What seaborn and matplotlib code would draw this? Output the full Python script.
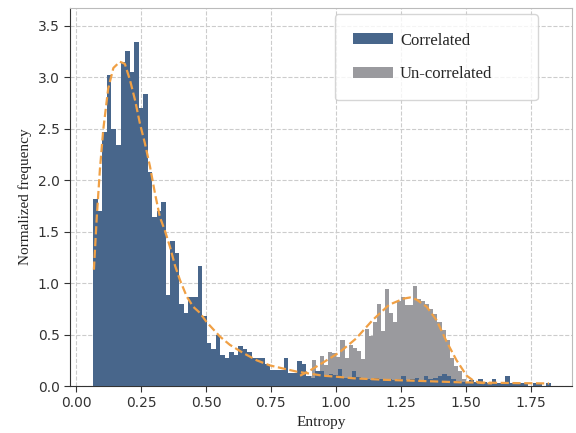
import numpy as np
import pandas as pd
import matplotlib
matplotlib.use("Agg")
import matplotlib.pyplot as plt
import seaborn as sns

# ---------------- data ----------------
corr_start, corr_width = 0.067, 0.01742
corr_heights = [
    1.815, 1.70, 2.47, 3.02, 2.50, 2.34, 3.15, 3.25, 3.05, 3.34,
    2.70, 2.84, 2.08, 1.64, 1.70, 1.79, 0.88, 1.41, 1.29, 0.80,
    0.71, 0.86, 0.86, 1.17, 0.68, 0.42, 0.36, 0.50, 0.30, 0.27,
    0.33, 0.30, 0.39, 0.36, 0.33, 0.27, 0.27, 0.27, 0.21, 0.155,
    0.155, 0.155, 0.27, 0.13, 0.13, 0.24, 0.21, 0.10, 0.08, 0.15,
    0.15, 0.10, 0.12, 0.11, 0.17, 0.08, 0.08, 0.15, 0.09, 0.07,
    0.07, 0.06, 0.08, 0.07, 0.06, 0.07, 0.06, 0.07, 0.10, 0.06,
    0.07, 0.08, 0.06, 0.10, 0.07, 0.08, 0.10, 0.12, 0.10, 0.065,
    0.05, 0.04, 0.04, 0.06, 0.04, 0.065, 0.04, 0.03, 0.065, 0.03,
    0.025, 0.10, 0.03, 0.03, 0.03, 0.025, 0.0, 0.025, 0.025, 0.0,
    0.025,
]

uncorr_start, uncorr_width = 0.862, 0.01555
uncorr_heights = [
    0.05, 0.08, 0.10, 0.25, 0.12, 0.29, 0.20, 0.33, 0.32, 0.28,
    0.45, 0.27, 0.40, 0.37, 0.34, 0.26, 0.55, 0.49, 0.62, 0.80,
    0.53, 0.94, 0.71, 0.62, 0.83, 0.86, 0.79, 0.79, 0.97, 0.85,
    0.83, 0.80, 0.75, 0.70, 0.62, 0.54, 0.45, 0.27, 0.19, 0.15,
    0.07, 0.04, 0.02,
]

fit_corr_x = [0.069, 0.080, 0.092, 0.105, 0.124, 0.144, 0.169, 0.188, 0.208,
              0.227, 0.246, 0.265, 0.285, 0.304, 0.323, 0.342, 0.362, 0.381,
              0.400, 0.426, 0.451, 0.477, 0.503, 0.554, 0.592, 0.644, 0.695,
              0.746, 0.797, 0.849, 0.900, 0.951, 1.003, 1.067, 1.190, 1.318,
              1.477, 1.600, 1.700, 1.820]
fit_corr_y = [1.13, 1.64, 2.10, 2.49, 2.89, 3.09, 3.15, 3.13, 2.97,
              2.78, 2.55, 2.36, 2.13, 1.87, 1.64, 1.51, 1.35, 1.17,
              1.03, 0.87, 0.77, 0.71, 0.62, 0.48, 0.40, 0.32, 0.25,
              0.20, 0.17, 0.14, 0.12, 0.10, 0.09, 0.075, 0.06, 0.05,
              0.036, 0.032, 0.028, 0.025]

fit_uncorr_x = [0.862, 0.900, 0.958, 1.015, 1.077, 1.141, 1.205, 1.262, 1.285,
                1.310, 1.349, 1.387, 1.426, 1.464, 1.503, 1.533, 1.560, 1.600]
fit_uncorr_y = [0.10, 0.15, 0.24, 0.33, 0.46, 0.64, 0.79, 0.85, 0.86,
                0.84, 0.77, 0.64, 0.43, 0.25, 0.10, 0.045, 0.03, 0.025]

labels = ["Correlated", "Un-correlated"]
x_label = "Entropy"
y_label = "Normalized frequency"

# ---------------- build tables ----------------
corr_edges = corr_start + corr_width * np.arange(len(corr_heights) + 1)
corr_df = pd.DataFrame({"entropy": (corr_edges[:-1] + corr_edges[1:]) / 2,
                        "freq": corr_heights})
unc_edges = uncorr_start + uncorr_width * np.arange(len(uncorr_heights) + 1)
unc_df = pd.DataFrame({"entropy": (unc_edges[:-1] + unc_edges[1:]) / 2,
                       "freq": uncorr_heights})

# ---------------- style ----------------
sns.set_style("ticks", {"axes.grid": True, "grid.linestyle": "--",
                        "grid.color": "#c8c8c8", "axes.edgecolor": "#333333"})
plt.rcParams["font.family"] = ["DejaVu Sans"]
serif = ["Liberation Serif", "DejaVu Serif"]

BLUE = "#48668b"
GRAY = "#9a9a9e"
ORANGE = "#f0a045"

fig = plt.figure(figsize=(5.76, 4.33), dpi=100)
ax = fig.add_axes([0.1215, 0.1085, 0.8715, 0.8725])

sns.histplot(data=corr_df, x="entropy", weights="freq",
             bins=[float(e) for e in corr_edges],
             color=BLUE, alpha=1.0, linewidth=0, ax=ax, zorder=3,
             label=labels[0])
sns.histplot(data=unc_df, x="entropy", weights="freq",
             bins=[float(e) for e in unc_edges],
             color=GRAY, alpha=1.0, linewidth=0, ax=ax, zorder=2,
             label=labels[1])

sns.lineplot(x=fit_corr_x, y=fit_corr_y, color=ORANGE, linestyle="--",
             linewidth=1.6, ax=ax, zorder=4)
sns.lineplot(x=fit_uncorr_x, y=fit_uncorr_y, color=ORANGE, linestyle="--",
             linewidth=1.6, ax=ax, zorder=4)

ax.set_xlim(-0.023, 1.908)
ax.set_ylim(0, 3.67)
xt = np.arange(0, 1.76, 0.25)
yt = np.arange(0, 3.51, 0.5)
ax.set_xticks(xt)
ax.set_yticks(yt)
ax.set_xticklabels([f"{v:.2f}" for v in xt])
ax.set_yticklabels([f"{v:.1f}" for v in yt])
ax.tick_params(labelsize=10, colors="#333333", length=4)
ax.set_axisbelow(True)
for s in ["top", "right"]:
    ax.spines[s].set_visible(True)
    ax.spines[s].set_color("#bbbbbb")
ax.grid(True, linestyle="--", color="#cccccc", linewidth=0.8)

ax.set_xlabel(x_label, fontsize=11, family=serif, color="#222222")
ax.set_ylabel(y_label, fontsize=11, family=serif, color="#222222")

handles, labs = ax.get_legend_handles_labels()
order = [labs.index(l) for l in labels if l in labs]
leg = ax.legend([handles[i] for i in order], [labs[i] for i in order],
                loc="upper left", mode="expand",
                bbox_to_anchor=(0.528, 0.757, 0.404, 0.227),
                borderaxespad=0.0,
                prop={"family": serif, "size": 12}, frameon=True,
                handlelength=2.4, handleheight=0.6, handletextpad=0.4,
                labelspacing=1.05, borderpad=1.1, fancybox=True,
                edgecolor="#cccccc")

fig.savefig("out.png", dpi=100)
